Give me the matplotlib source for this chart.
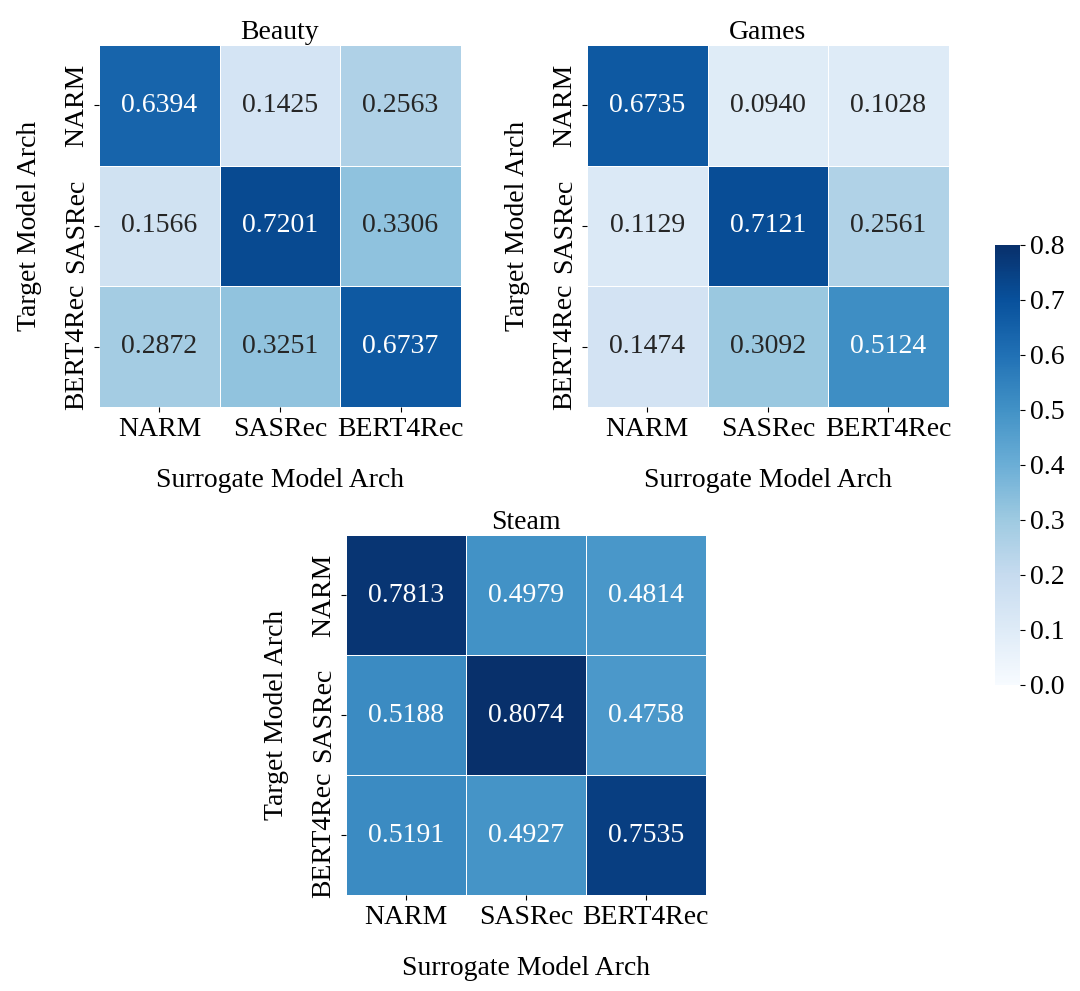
import matplotlib
matplotlib.use("Agg")
import matplotlib.pyplot as plt
import numpy as np
import seaborn as sns

plt.rcParams['font.family'] = ['Liberation Serif', 'DejaVu Serif']

archs = ["NARM", "SASRec", "BERT4Rec"]
beauty = [[0.6394, 0.1425, 0.2563],
          [0.1566, 0.7201, 0.3306],
          [0.2872, 0.3251, 0.6737]]
games = [[0.6735, 0.0940, 0.1028],
         [0.1129, 0.7121, 0.2561],
         [0.1474, 0.3092, 0.5124]]
steam = [[0.7813, 0.4979, 0.4814],
         [0.5188, 0.8074, 0.4758],
         [0.5191, 0.4927, 0.7535]]
titles = ["Beauty", "Games", "Steam"]

fig = plt.figure(figsize=(10.8, 9.91), dpi=100)
positions = [
    [0.0917, 0.5893, 0.335, 0.3653],
    [0.5435, 0.5893, 0.335, 0.3653],
    [0.3204, 0.0969, 0.333, 0.363],
]
datasets = [beauty, games, steam]
fs = 20
for pos, data, title in zip(positions, datasets, titles):
    ax = fig.add_axes(pos)
    sns.heatmap(np.array(data), ax=ax, cmap="Blues", vmin=0, vmax=0.8,
                annot=True, fmt=".4f", annot_kws={"fontsize": fs},
                linewidths=0.5, linecolor="white", cbar=False,
                xticklabels=archs, yticklabels=archs)
    ax.set_title(title, fontsize=20, pad=3)
    ax.set_xlabel("Surrogate Model Arch", fontsize=20, labelpad=19)
    ax.set_ylabel("Target Model Arch", fontsize=20, labelpad=16)
    ax.tick_params(axis='x', labelsize=20, rotation=0)
    ax.tick_params(axis='y', labelsize=20)
    for lab in ax.get_yticklabels():
        lab.set_rotation(90)
        lab.set_va('center')

cax = fig.add_axes([0.9213, 0.3088, 0.0231, 0.444])
sm = matplotlib.cm.ScalarMappable(norm=matplotlib.colors.Normalize(0, 0.8), cmap="Blues")
cb = fig.colorbar(sm, cax=cax)
cb.set_ticks(np.arange(0, 0.81, 0.1))
cb.ax.set_yticklabels([f"{v:.1f}" for v in np.arange(0, 0.81, 0.1)])
cb.ax.tick_params(labelsize=20)
cb.outline.set_visible(False)

fig.savefig("out.png", dpi=100)
